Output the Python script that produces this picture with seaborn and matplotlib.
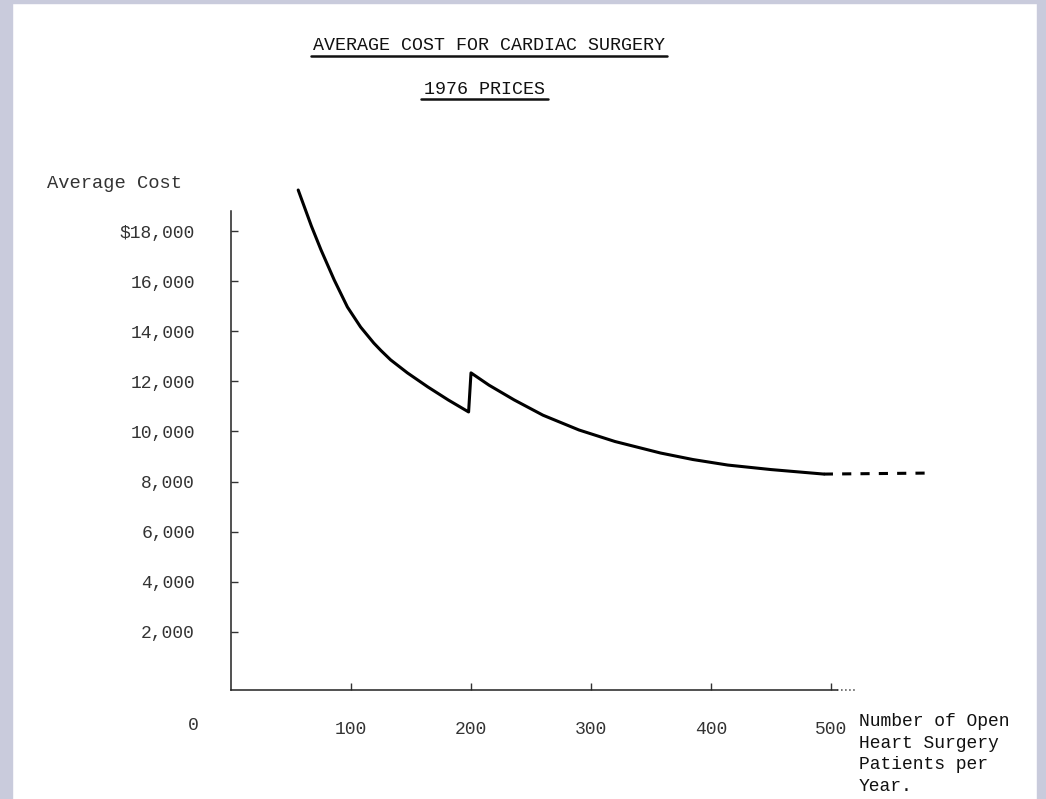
import numpy as np
import pandas as pd
import matplotlib
matplotlib.use("Agg")
import matplotlib.pyplot as plt
from matplotlib.lines import Line2D
from matplotlib.patches import Rectangle
import seaborn as sns

# values
patients = [56, 67, 75, 86, 97, 108, 119, 125, 133, 147, 164, 181, 198,
            200, 215, 236, 260, 290, 320, 358, 385, 414, 450, 494]
avg_cost = [19640, 18200, 17250, 16050, 14970, 14170, 13530, 13230, 12860,
            12340, 11780, 11260, 10780,
            12340, 11850, 11260, 10650, 10060, 9600, 9140, 8880, 8660, 8480, 8300]
ext_patients = [494, 581]
ext_cost = [8300, 8340]

y_ticks = [2000, 4000, 6000, 8000, 10000, 12000, 14000, 16000, 18000]
y_labels = ["2,000", "4,000", "6,000", "8,000", "10,000", "12,000",
            "14,000", "16,000", "$18,000"]
x_ticks = [100, 200, 300, 400, 500]
x_labels = ["100", "200", "300", "400", "500"]

sns.set_theme(style="white")
plt.rcParams["font.family"] = ["Liberation Mono", "DejaVu Sans Mono"]

W, H = 1046, 799
fig = plt.figure(figsize=(W / 100, H / 100), dpi=100)
fig.patch.set_facecolor("white")

# scanner border strips
edge = "#c9cbdc"
fig.patches.append(Rectangle((0, 0), 12 / W, 1, transform=fig.transFigure, color=edge, zorder=0))
fig.patches.append(Rectangle((1037 / W, 0), 9 / W, 1, transform=fig.transFigure, color=edge, zorder=0))
fig.patches.append(Rectangle((0, 1 - 3 / H), 1, 3 / H, transform=fig.transFigure, color=edge, zorder=0))

ax = fig.add_axes([231 / W, 1 - 689.5 / H, 720 / W, 508.5 / H])
ax.set_facecolor("none")

df = pd.DataFrame({"patients": patients, "cost": avg_cost})
df_ext = pd.DataFrame({"patients": ext_patients, "cost": ext_cost})
sns.lineplot(data=df, x="patients", y="cost", ax=ax, color="black",
             linewidth=2.2, sort=False)
sns.lineplot(data=df_ext, x="patients", y="cost", ax=ax, color="black",
             linewidth=2.2, linestyle=(0, (3, 3)), sort=False)

ax.set_xlim(0, 600)
ax.set_ylim(-300, 20000)
for s in ["top", "right"]:
    ax.spines[s].set_visible(False)
ax.spines["left"].set_bounds(-300, 18800)
ax.spines["bottom"].set_bounds(0, 505)
for s in ["left", "bottom"]:
    ax.spines[s].set_color("#222222")
    ax.spines[s].set_linewidth(1.1)
ax.hlines(-300, 505, 522, color="#444444", linewidth=1.1, linestyle=":", clip_on=False)

ax.set_yticks(y_ticks)
ax.set_yticklabels(y_labels)
ax.set_xticks(x_ticks)
ax.set_xticklabels(x_labels)
ax.tick_params(axis="y", direction="in", length=5, width=1, color="#333333",
               pad=26, labelsize=13, labelcolor="#333333", left=True)
ax.tick_params(axis="x", direction="in", length=5, width=1, color="#333333",
               pad=23, labelsize=13, labelcolor="#333333", bottom=True)
ax.set_xlabel("")
ax.set_ylabel("")

# titles with typed underlines
fig.text(489 / W, 1 - 45 / H, "AVERAGE COST FOR CARDIAC SURGERY", ha="center",
         va="center", fontsize=13.2, color="#111111")
fig.add_artist(Line2D([311 / W, 667 / W], [1 - 56 / H] * 2, transform=fig.transFigure,
                      color="#111111", linewidth=1.8))
fig.text(485 / W, 1 - 89 / H, "1976 PRICES", ha="center", va="center",
         fontsize=13.2, color="#111111")
fig.add_artist(Line2D([421 / W, 548 / W], [1 - 99 / H] * 2, transform=fig.transFigure,
                      color="#111111", linewidth=1.8))

fig.text(47 / W, 1 - 184 / H, "Average Cost", ha="left", va="center",
         fontsize=13.5, color="#333333")
fig.text(193 / W, 1 - 726 / H, "0", ha="center", va="center",
         fontsize=13, color="#333333")
fig.text(859 / W, 1 - 713 / H, "Number of Open\nHeart Surgery\nPatients per\nYear.",
         ha="left", va="top", fontsize=13, linespacing=1.36, color="#111111")

fig.savefig("out.png", dpi=100)
